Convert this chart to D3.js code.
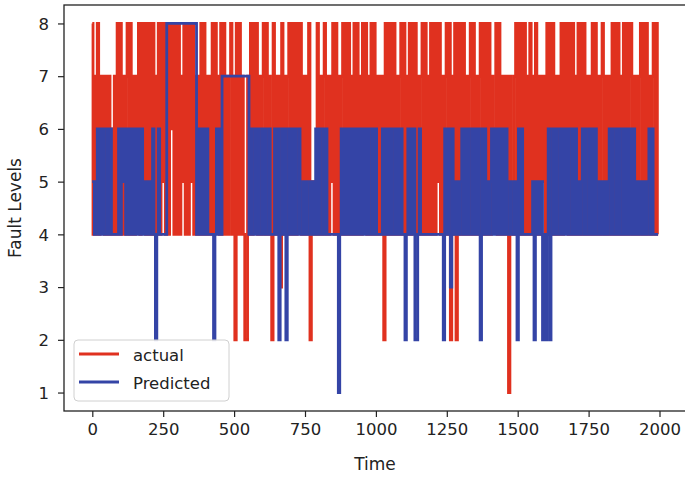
<!DOCTYPE html>
<html>
<head>
<meta charset="utf-8">
<script src="https://cdn.jsdelivr.net/npm/d3@7"></script>
<style>
  html, body { margin: 0; padding: 0; background: #fff; }
  svg { display: block; font-family: "DejaVu Sans", sans-serif; }
</style>
</head>
<body>
<svg id="chart" width="685" height="479"></svg>
<script>
// sampling step of the time axis (one sample every 5 time units, 400 samples)
const timeStep = 5;

// "actual" fault levels, one value per sample
const actual = [
  8,4,7,4,8,4,7,5,7,4,7,4,7,4,6,4,7,4,8,4,
  8,4,7,4,7,8,4,8,4,7,4,7,5,8,4,8,5,8,4,8,
  4,8,4,8,4,7,4,8,4,8,5,8,4,8,4,8,6,8,4,8,
  4,8,4,7,5,8,4,8,4,8,5,8,4,7,4,7,4,8,4,8,
  4,7,4,7,4,8,4,8,5,7,4,8,4,8,4,7,4,7,8,4,
  7,2,8,4,8,4,7,4,2,2,7,4,8,4,8,5,8,4,7,4,
  7,8,4,8,4,7,4,2,8,4,7,4,7,3,8,4,7,4,7,8,
  4,8,4,8,4,8,5,8,4,7,4,7,4,8,2,5,4,5,4,8,
  4,7,4,7,8,4,7,4,7,5,8,4,8,4,7,4,7,8,4,8,
  4,8,4,7,4,8,4,8,4,7,4,8,5,8,4,7,4,8,4,8,
  4,7,4,7,4,7,2,8,4,8,4,8,4,8,4,7,4,7,8,4,
  8,4,7,4,8,4,8,5,8,4,7,4,7,8,4,8,4,7,4,8,
  4,8,4,8,5,8,4,7,4,7,8,4,8,2,7,4,8,2,8,4,
  8,4,8,4,7,4,7,8,4,8,4,7,4,7,8,4,8,4,8,4,
  8,4,7,5,6,8,4,8,4,7,4,7,4,7,1,7,4,4,7,8,
  4,8,4,8,4,8,4,7,4,8,4,7,4,8,4,7,4,7,5,7,
  4,8,4,8,4,8,4,7,4,7,4,8,4,8,5,8,4,8,4,8,
  4,7,4,8,4,8,4,8,4,7,4,7,4,8,4,8,4,7,4,7,
  8,4,7,4,7,4,7,8,4,8,4,8,4,7,4,8,4,8,4,7,
  8,4,7,4,7,4,7,8,4,8,4,8,4,7,4,7,8,4,8,4
];

// "Predicted" fault levels, one value per sample
const predicted = [
  5,5,4,5,6,4,6,4,6,4,4,6,4,6,4,4,4,4,4,6,
  4,6,5,6,4,6,4,6,4,6,4,6,4,6,4,6,4,5,4,5,
  4,5,4,6,4,2,4,6,4,4,4,4,4,8,8,8,8,8,8,8,
  8,8,8,8,8,8,8,8,8,8,8,8,8,8,4,6,4,6,4,6,
  4,6,4,4,4,4,2,4,6,4,6,4,7,7,7,7,7,7,7,7,
  7,7,7,7,7,7,7,7,7,7,7,4,6,4,4,6,4,6,4,4,
  6,4,6,4,4,6,4,4,4,6,4,6,2,4,6,4,6,2,4,6,
  4,6,4,6,4,4,6,4,4,5,4,5,4,4,5,4,5,4,6,4,
  6,4,4,6,4,6,4,4,4,4,4,4,4,4,1,4,6,4,6,4,
  6,4,6,4,6,4,6,4,6,4,4,6,4,6,4,6,4,4,6,4,
  6,4,4,4,4,6,4,6,4,6,4,6,4,4,6,4,6,4,6,4,
  4,2,4,6,4,6,4,6,2,2,4,6,4,4,4,4,4,4,4,4,
  4,4,4,4,4,4,4,4,2,6,4,6,4,3,6,4,5,4,5,4,
  5,6,4,6,4,6,4,4,6,4,6,4,6,4,2,6,4,6,4,5,
  4,5,6,4,6,4,6,4,6,4,6,4,6,4,4,5,4,4,5,4,
  2,6,4,6,4,4,4,4,4,4,4,5,2,5,4,5,4,5,2,4,
  2,4,6,2,4,6,4,6,4,4,6,4,6,4,6,4,6,4,4,6,
  4,6,4,5,4,5,6,4,6,4,4,6,4,6,4,6,4,4,5,4,
  5,4,5,4,5,6,4,6,4,4,6,4,6,4,4,6,4,6,4,4,
  6,4,6,4,5,4,5,4,5,4,5,4,5,6,4,6,4,4,4,4
];

const xTicks = [0, 250, 500, 750, 1000, 1250, 1500, 1750, 2000];
const yTicks = [1, 2, 3, 4, 5, 6, 7, 8];
const seriesNames = ["actual", "Predicted"];
const seriesColors = ["#e0311f", "#3444a6"];

const svg = d3.select("#chart");
const W = 685, H = 479;
const plotLeft = 64, plotTop = 5, plotBottom = 411;

const x = d3.scaleLinear().domain([0, 2000]).range([92.3, 659.5]);
const y = d3.scaleLinear().domain([0.65, 8.35]).range([plotBottom, plotTop]);
const plotRight = x(2099);

svg.append("rect").attr("width", W).attr("height", H).attr("fill", "#fff");

svg.append("defs").append("clipPath").attr("id", "clip")
  .append("rect").attr("x", plotLeft).attr("y", plotTop)
  .attr("width", plotRight - plotLeft).attr("height", plotBottom - plotTop);

const line = d3.line()
  .x((d, i) => x(i * timeStep))
  .y(d => y(d))
  .curve(d3.curveStep);

const g = svg.append("g").attr("clip-path", "url(#clip)");
[actual, predicted].forEach((s, k) => {
  g.append("path")
    .datum(s)
    .attr("fill", "none")
    .attr("stroke", seriesColors[k])
    .attr("stroke-width", 2.8)
    .attr("stroke-linejoin", "miter")
    .attr("d", line);
});

// axes
const xAxis = d3.axisBottom(x).tickValues(xTicks).tickSize(6).tickPadding(6).tickFormat(d3.format("d"));
const yAxis = d3.axisLeft(y).tickValues(yTicks).tickSize(6).tickPadding(9).tickFormat(d3.format("d"));

const gx = svg.append("g").attr("transform", `translate(0,${plotBottom})`).call(xAxis);
const gy = svg.append("g").attr("transform", `translate(${plotLeft},0)`).call(yAxis);
[gx, gy].forEach(a => {
  a.select(".domain").remove();
  a.selectAll(".tick line").attr("stroke", "#222").attr("stroke-width", 1.2);
  a.selectAll(".tick text").attr("fill", "#222").style("font-size", "16.5px")
    .style("font-family", "DejaVu Sans, sans-serif");
});
gy.selectAll(".tick text").attr("dy", "0.35em");

// frame
svg.append("rect")
  .attr("x", plotLeft).attr("y", plotTop)
  .attr("width", plotRight - plotLeft).attr("height", plotBottom - plotTop)
  .attr("fill", "none").attr("stroke", "#222").attr("stroke-width", 1.3);

// axis labels
svg.append("text").attr("x", 375).attr("y", 470).attr("text-anchor", "middle")
  .attr("fill", "#222").style("font-size", "17px").text("Time");
svg.append("text").attr("transform", "translate(21,208) rotate(-90)")
  .attr("text-anchor", "middle").attr("fill", "#222").style("font-size", "17px")
  .text("Fault Levels");

// legend
const lg = svg.append("g");
lg.append("rect").attr("x", 74).attr("y", 340).attr("width", 155).attr("height", 61)
  .attr("rx", 4).attr("fill", "#fff").attr("fill-opacity", 0.85)
  .attr("stroke", "#d0d0d0").attr("stroke-width", 1);
seriesNames.forEach((n, k) => {
  const yy = 354 + k * 28;
  lg.append("line").attr("x1", 79).attr("x2", 119).attr("y1", yy).attr("y2", yy)
    .attr("stroke", seriesColors[k]).attr("stroke-width", 2.8);
  lg.append("text").attr("x", 133).attr("y", yy + 6.5).attr("fill", "#222")
    .style("font-size", "16.5px").text(n);
});
</script>
</body>
</html>
